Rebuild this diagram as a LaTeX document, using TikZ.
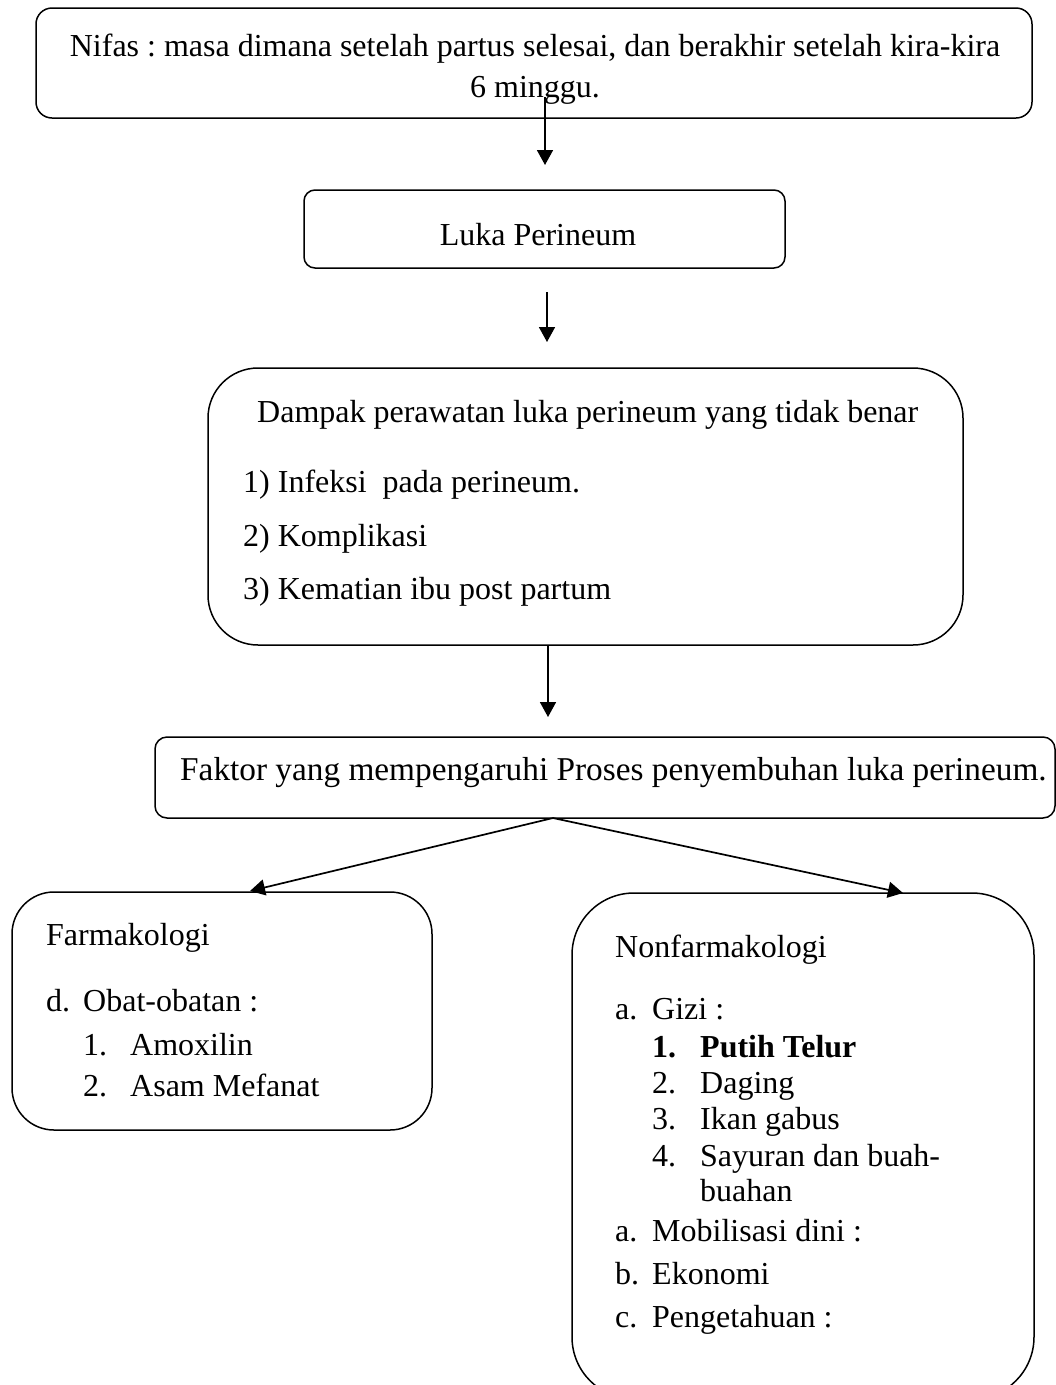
\documentclass[tikz,border=0pt]{standalone}
\usepackage{fontspec}
\setmainfont{Liberation Serif}
\usetikzlibrary{arrows.meta}
\frenchspacing
\begin{document}
\begin{tikzpicture}[x=1pt,y=-1pt,
  box/.style={draw, line width=1.5pt, inner sep=0pt},
  arr/.style={line width=1.7pt, -{Triangle[length=15pt,width=16pt]}},
  txt/.style={anchor=base west, inner sep=0pt, font=\fontsize{32}{38}\selectfont},
  ctxt/.style={anchor=base, inner sep=0pt, font=\fontsize{32}{38}\selectfont}]
\useasboundingbox (0,0) rectangle (1056,1385);
\clip (0,0) rectangle (1056,1385);
% boxes
\node[box, rounded corners=16pt, minimum width=996pt, minimum height=110pt] (b1) at (534,63) {};
\node[box, rounded corners=11pt, minimum width=481pt, minimum height=78pt] (b2) at (544.5,229) {};
\node[box, rounded corners=50pt, minimum width=755pt, minimum height=277pt] (b3) at (585.5,506.5) {};
\node[box, rounded corners=12pt, minimum width=900pt, minimum height=81pt] (b4) at (605,777.5) {};
\node[box, rounded corners=42pt, minimum width=420pt, minimum height=238pt] (b5) at (222,1011) {};
\node[box, rounded corners=62pt, minimum width=462pt, minimum height=506pt] (b6) at (803,1146) {};
% texts
\node[ctxt] (t1a) at (535,56) {Nifas : masa dimana setelah partus selesai, dan berakhir setelah kira-kira};
\node[ctxt] (t1b) at (535,97) {6 minggu.};
\node[ctxt] (t2) at (538,245) {Luka Perineum};
\node[txt] (t3h) at (257,422) {Dampak perawatan luka perineum yang tidak benar};
\node[txt] (t3a) at (243,492) {1) Infeksi\ \ pada perineum.};
\node[txt] (t3b) at (243,546) {2) Komplikasi};
\node[txt] (t3c) at (243,599) {3) Kematian ibu post partum};
\node[txt, font=\fontsize{33.3}{40}\selectfont] (t4) at (180,780) {Faktor yang mempengaruhi Proses penyembuhan luka perineum.};
\node[txt] (t5h) at (46,945) {Farmakologi};
\node[txt] (t5a) at (46,1011) {d.};
\node[txt] (t5at) at (83,1011) {Obat-obatan :};
\node[txt] (t5b) at (83,1055) {1.};
\node[txt] (t5bt) at (130,1055) {Amoxilin};
\node[txt] (t5c) at (83,1096) {2.};
\node[txt] (t5ct) at (130,1096) {Asam Mefanat};
\node[txt] (t6h) at (615,957) {Nonfarmakologi};
\node[txt] (t6a) at (615,1019) {a.};
\node[txt] (t6at) at (652,1019) {Gizi :};
\node[txt, font=\fontsize{32}{38}\selectfont\bfseries] (t6b) at (652,1057) {1.};
\node[txt, font=\fontsize{32}{38}\selectfont\bfseries] (t6bt) at (700,1057) {Putih Telur};
\node[txt] (t6c) at (652,1093) {2.};
\node[txt] (t6ct) at (700,1093) {Daging};
\node[txt] (t6d) at (652,1129) {3.};
\node[txt] (t6dt) at (700,1129) {Ikan gabus};
\node[txt] (t6e) at (652,1166) {4.};
\node[txt] (t6et) at (700,1166) {Sayuran dan buah-};
\node[txt] (t6f) at (700,1201) {buahan};
\node[txt] (t6g) at (615,1241) {a.};
\node[txt] (t6gt) at (652,1241) {Mobilisasi dini :};
\node[txt] (t6h2) at (615,1284) {b.};
\node[txt] (t6ht) at (652,1284) {Ekonomi};
\node[txt] (t6i) at (615,1327) {c.};
\node[txt] (t6it) at (652,1327) {Pengetahuan :};
% connectors
\coordinate (a1s) at (545,97);
\coordinate (a1e) at (545,165);
\draw[arr] (a1s) -- (a1e);
\coordinate (a2s) at (547,292);
\coordinate (a2e) at (547,342);
\draw[arr] (a2s) -- (a2e);
\coordinate (a3s) at (548,645);
\coordinate (a3e) at (548,717);
\draw[arr] (a3s) -- (a3e);
\coordinate (a4s) at (553,818);
\coordinate (a4l) at (250,891);
\coordinate (a4r) at (903,893);
\draw[arr] (a4s) -- (a4l);
\draw[arr] (a4s) -- (a4r);
\end{tikzpicture}
\end{document}
